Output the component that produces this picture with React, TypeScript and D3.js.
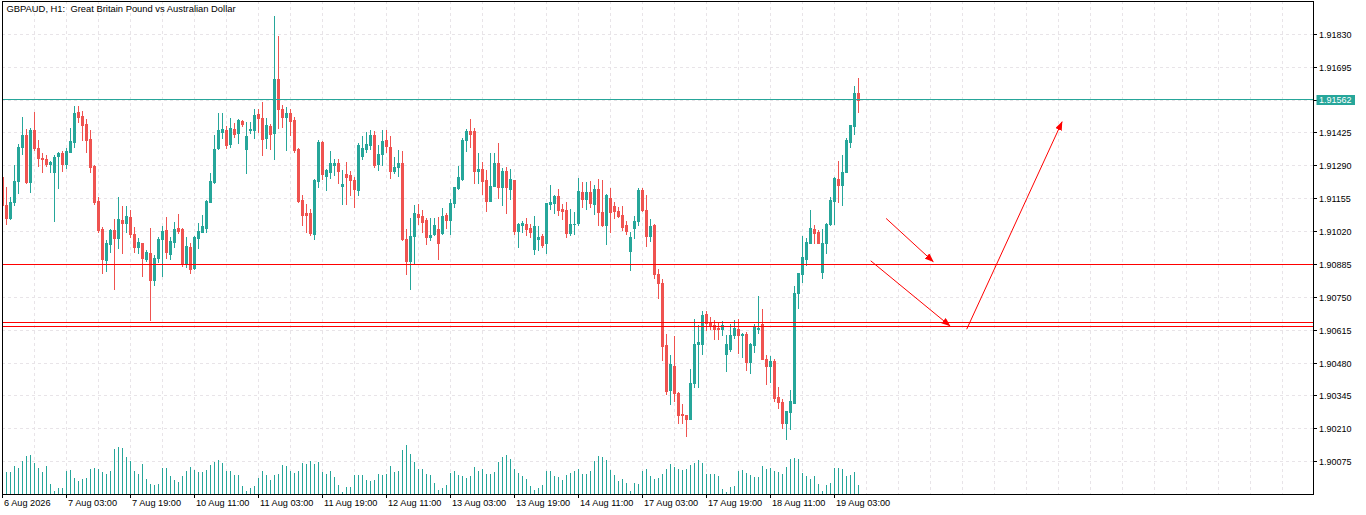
import React from 'react';
import * as d3 from 'd3';

// ---------- data ----------
const chartTitle = 'GBPAUD, H1:  Great Britain Pound vs Australian Dollar';

const opens = [
  1.91245, 1.91131, 1.91076, 1.91140, 1.91227, 1.91367, 1.91416, 1.91224, 1.91437, 1.91364, 1.91323, 1.91318, 1.91296, 1.91265, 1.91331, 1.91342,
  1.91298, 1.91348, 1.91389, 1.91511, 1.91494, 1.91461, 1.91400, 1.91290, 1.91145, 1.91030, 1.90904, 1.90967, 1.91026, 1.90994, 1.91067, 1.91056,
  1.91080, 1.91010, 1.90957, 1.90971, 1.90908, 1.90933, 1.90820, 1.90912, 1.90988, 1.91026, 1.90928, 1.90978, 1.91034, 1.91030, 1.90889, 1.90956,
  1.90872, 1.90994, 1.91019, 1.91035, 1.91142, 1.91224, 1.91364, 1.91430, 1.91437, 1.91380, 1.91441, 1.91426, 1.91474, 1.91360, 1.91438, 1.91437,
  1.91502, 1.91487, 1.91403, 1.91453, 1.91426, 1.91646, 1.91524, 1.91490, 1.91505, 1.91478, 1.91360, 1.91149, 1.91097, 1.91097, 1.91012, 1.91228,
  1.91387, 1.91249, 1.91263, 1.91293, 1.91300, 1.91208, 1.91256, 1.91252, 1.91231, 1.91190, 1.91330, 1.91360, 1.91375, 1.91415, 1.91297, 1.91338,
  1.91396, 1.91368, 1.91269, 1.91286, 1.91302, 1.90990, 1.90900, 1.91001, 1.91094, 1.91083, 1.91067, 1.90998, 1.91008, 1.91030, 1.91015, 1.91087,
  1.91067, 1.91138, 1.91200, 1.91235, 1.91398, 1.91433, 1.91433, 1.91269, 1.91276, 1.91231, 1.91146, 1.91207, 1.91302, 1.91204, 1.91268, 1.91193,
  1.91231, 1.91023, 1.91046, 1.91053, 1.91035, 1.90948, 1.90990, 1.91001, 1.90973, 1.91133, 1.91138, 1.91165, 1.91113, 1.91108, 1.91015, 1.91051,
  1.91056, 1.91182, 1.91152, 1.91182, 1.91133, 1.91194, 1.91101, 1.91046, 1.91156, 1.91124, 1.91105, 1.91090, 1.91046, 1.90941, 1.91033, 1.91063,
  1.91190, 1.91108, 1.91002, 1.91046, 1.90845, 1.90809, 1.90555, 1.90368, 1.90470, 1.90357, 1.90272, 1.90265, 1.90252, 1.90400, 1.90557, 1.90560,
  1.90680, 1.90645, 1.90635, 1.90626, 1.90618, 1.90516, 1.90537, 1.90594, 1.90619, 1.90594, 1.90598, 1.90484, 1.90553, 1.90618, 1.90642, 1.90496,
  1.90467, 1.90487, 1.90341, 1.90320, 1.90234, 1.90279, 1.90318, 1.90766, 1.90845, 1.90909, 1.90975, 1.91030, 1.91017, 1.90854, 1.90973, 1.91050,
  1.91146, 1.91235, 1.91211, 1.91265, 1.91389, 1.91453, 1.91588,
];

const highs = [
  1.91252, 1.91201, 1.91161, 1.91292, 1.91378, 1.91491, 1.91442, 1.91445, 1.91511, 1.91396, 1.91342, 1.91334, 1.91309, 1.91334, 1.91348, 1.91350,
  1.91364, 1.91444, 1.91535, 1.91535, 1.91515, 1.91483, 1.91438, 1.91293, 1.91163, 1.91039, 1.90987, 1.91029, 1.91070, 1.91160, 1.91124, 1.91124,
  1.91108, 1.91039, 1.90992, 1.90971, 1.90944, 1.91034, 1.90922, 1.90998, 1.91042, 1.91078, 1.90998, 1.91060, 1.91094, 1.91034, 1.90997, 1.90971,
  1.91001, 1.91057, 1.91090, 1.91149, 1.91259, 1.91416, 1.91505, 1.91505, 1.91453, 1.91485, 1.91464, 1.91482, 1.91478, 1.91471, 1.91468, 1.91522,
  1.91524, 1.91552, 1.91485, 1.91460, 1.91905, 1.91823, 1.91539, 1.91532, 1.91522, 1.91491, 1.91364, 1.91172, 1.91135, 1.91113, 1.91234, 1.91396,
  1.91390, 1.91276, 1.91350, 1.91319, 1.91319, 1.91272, 1.91305, 1.91268, 1.91245, 1.91383, 1.91412, 1.91430, 1.91437, 1.91433, 1.91375, 1.91437,
  1.91437, 1.91412, 1.91327, 1.91355, 1.91350, 1.91029, 1.91076, 1.91131, 1.91135, 1.91108, 1.91076, 1.91076, 1.91074, 1.91080, 1.91115, 1.91097,
  1.91153, 1.91201, 1.91289, 1.91403, 1.91441, 1.91482, 1.91444, 1.91343, 1.91304, 1.91272, 1.91343, 1.91341, 1.91385, 1.91279, 1.91286, 1.91275,
  1.91231, 1.91057, 1.91063, 1.91074, 1.91053, 1.91084, 1.91042, 1.91012, 1.91138, 1.91211, 1.91172, 1.91194, 1.91135, 1.91142, 1.91112, 1.91101,
  1.91238, 1.91224, 1.91224, 1.91227, 1.91211, 1.91234, 1.91231, 1.91174, 1.91197, 1.91142, 1.91120, 1.91124, 1.91063, 1.91019, 1.91083, 1.91198,
  1.91197, 1.91170, 1.91071, 1.91053, 1.90865, 1.90827, 1.90601, 1.90512, 1.90590, 1.90361, 1.90313, 1.90268, 1.90454, 1.90660, 1.90635, 1.90694,
  1.90694, 1.90669, 1.90656, 1.90645, 1.90653, 1.90594, 1.90642, 1.90656, 1.90659, 1.90605, 1.90608, 1.90563, 1.90642, 1.90754, 1.90704, 1.90512,
  1.90509, 1.90498, 1.90382, 1.90334, 1.90283, 1.90368, 1.90796, 1.90850, 1.91002, 1.90992, 1.91108, 1.91046, 1.91026, 1.91030, 1.91056, 1.91163,
  1.91242, 1.91310, 1.91334, 1.91403, 1.91457, 1.91618, 1.91649,
];

const lows = [
  1.91124, 1.91052, 1.91070, 1.91131, 1.91179, 1.91337, 1.91219, 1.91183, 1.91355, 1.91290, 1.91263, 1.91290, 1.91263, 1.91064, 1.91200, 1.91268,
  1.91279, 1.91345, 1.91368, 1.91471, 1.91396, 1.91348, 1.91264, 1.91133, 1.91019, 1.90850, 1.90858, 1.90937, 1.90784, 1.90953, 1.90932, 1.91019,
  1.90998, 1.90937, 1.90932, 1.90838, 1.90901, 1.90656, 1.90800, 1.90893, 1.90838, 1.90912, 1.90909, 1.90957, 1.91015, 1.90879, 1.90875, 1.90848,
  1.90868, 1.90953, 1.91019, 1.91019, 1.91142, 1.91218, 1.91361, 1.91403, 1.91364, 1.91368, 1.91408, 1.91385, 1.91453, 1.91260, 1.91423, 1.91403,
  1.91430, 1.91334, 1.91364, 1.91359, 1.91320, 1.91446, 1.91450, 1.91355, 1.91416, 1.91348, 1.91142, 1.91046, 1.91019, 1.91005, 1.90989, 1.91204,
  1.91235, 1.91190, 1.91241, 1.91252, 1.91219, 1.91135, 1.91135, 1.91172, 1.91121, 1.91170, 1.91320, 1.91348, 1.91361, 1.91286, 1.91272, 1.91293,
  1.91348, 1.91238, 1.91259, 1.91249, 1.90985, 1.90844, 1.90786, 1.90889, 1.91053, 1.91019, 1.90970, 1.90987, 1.91005, 1.90908, 1.91012, 1.91033,
  1.91012, 1.91121, 1.91194, 1.91231, 1.91352, 1.91368, 1.91220, 1.91220, 1.91176, 1.91105, 1.91146, 1.91207, 1.91158, 1.91128, 1.91097, 1.91153,
  1.91012, 1.90957, 1.91019, 1.91005, 1.90998, 1.90927, 1.90946, 1.90955, 1.90932, 1.91112, 1.91098, 1.91087, 1.91071, 1.90996, 1.91005, 1.91009,
  1.91046, 1.91121, 1.91112, 1.91121, 1.91094, 1.91046, 1.91042, 1.90968, 1.91019, 1.91075, 1.91080, 1.91026, 1.91009, 1.90864, 1.90992, 1.91046,
  1.91104, 1.90961, 1.90980, 1.90830, 1.90747, 1.90494, 1.90355, 1.90313, 1.90323, 1.90234, 1.90234, 1.90180, 1.90250, 1.90382, 1.90382, 1.90516,
  1.90615, 1.90618, 1.90578, 1.90578, 1.90594, 1.90446, 1.90528, 1.90581, 1.90523, 1.90505, 1.90450, 1.90441, 1.90526, 1.90605, 1.90496, 1.90393,
  1.90402, 1.90323, 1.90295, 1.90215, 1.90170, 1.90211, 1.90318, 1.90706, 1.90811, 1.90882, 1.90975, 1.90973, 1.90971, 1.90830, 1.90932, 1.91046,
  1.91053, 1.91142, 1.91131, 1.91265, 1.91368, 1.91420, 1.91512,
];

const closes = [
  1.91131, 1.91076, 1.91140, 1.91227, 1.91367, 1.91416, 1.91224, 1.91437, 1.91364, 1.91323, 1.91318, 1.91298, 1.91304, 1.91326, 1.91342, 1.91296,
  1.91350, 1.91392, 1.91505, 1.91491, 1.91457, 1.91396, 1.91286, 1.91142, 1.91026, 1.90908, 1.90971, 1.91026, 1.90994, 1.91070, 1.91056, 1.91083,
  1.91010, 1.90957, 1.90978, 1.90912, 1.90935, 1.90820, 1.90912, 1.90990, 1.91022, 1.90937, 1.90980, 1.91030, 1.91023, 1.90885, 1.90960, 1.90868,
  1.90997, 1.91022, 1.91042, 1.91145, 1.91227, 1.91361, 1.91437, 1.91441, 1.91375, 1.91446, 1.91420, 1.91478, 1.91461, 1.91412, 1.91441, 1.91498,
  1.91485, 1.91401, 1.91456, 1.91421, 1.91646, 1.91524, 1.91490, 1.91508, 1.91475, 1.91355, 1.91145, 1.91090, 1.91090, 1.91016, 1.91231, 1.91387,
  1.91255, 1.91271, 1.91300, 1.91300, 1.91268, 1.91215, 1.91245, 1.91231, 1.91194, 1.91376, 1.91364, 1.91378, 1.91415, 1.91293, 1.91338, 1.91392,
  1.91371, 1.91269, 1.91286, 1.91302, 1.90990, 1.90900, 1.91001, 1.91097, 1.91080, 1.91060, 1.90998, 1.91005, 1.91046, 1.90973, 1.91083, 1.91067,
  1.91138, 1.91201, 1.91244, 1.91398, 1.91433, 1.91419, 1.91269, 1.91276, 1.91228, 1.91146, 1.91207, 1.91302, 1.91204, 1.91268, 1.91204, 1.91235,
  1.91023, 1.91050, 1.91057, 1.91030, 1.91019, 1.91042, 1.90997, 1.90964, 1.91138, 1.91142, 1.91165, 1.91108, 1.91105, 1.91015, 1.91053, 1.91053,
  1.91186, 1.91152, 1.91182, 1.91138, 1.91194, 1.91101, 1.91046, 1.91170, 1.91101, 1.91105, 1.91083, 1.91039, 1.91023, 1.90997, 1.91063, 1.91190,
  1.91108, 1.91002, 1.91042, 1.90845, 1.90809, 1.90550, 1.90365, 1.90475, 1.90357, 1.90268, 1.90265, 1.90252, 1.90400, 1.90560, 1.90567, 1.90676,
  1.90645, 1.90635, 1.90618, 1.90618, 1.90635, 1.90557, 1.90594, 1.90622, 1.90594, 1.90599, 1.90484, 1.90560, 1.90628, 1.90624, 1.90496, 1.90467,
  1.90487, 1.90336, 1.90320, 1.90234, 1.90283, 1.90323, 1.90768, 1.90850, 1.90914, 1.90978, 1.91033, 1.91015, 1.90971, 1.90973, 1.91050, 1.91149,
  1.91238, 1.91211, 1.91265, 1.91396, 1.91457, 1.91590, 1.91562,
];

const volumes = [
  20, 22, 22, 28, 26, 33, 38, 39, 31, 26, 22, 28, 10, 3, 6, 6,
  23, 24, 16, 13, 15, 16, 25, 26, 25, 22, 20, 23, 45, 47, 46, 37,
  33, 23, 20, 30, 15, 10, 9, 10, 26, 26, 18, 14, 12, 18, 23, 27,
  24, 22, 22, 24, 29, 32, 34, 31, 23, 23, 19, 19, 8, 3, 6, 8,
  16, 23, 19, 14, 19, 20, 29, 28, 23, 21, 23, 31, 30, 33, 30, 32,
  22, 20, 23, 17, 9, 2, 7, 7, 19, 19, 19, 14, 13, 14, 20, 19,
  20, 28, 22, 23, 44, 49, 40, 32, 25, 25, 20, 19, 11, 4, 6, 9,
  21, 23, 19, 18, 16, 18, 27, 23, 25, 20, 20, 22, 32, 37, 39, 35,
  25, 21, 18, 15, 8, 4, 6, 9, 23, 23, 18, 17, 14, 19, 21, 23,
  25, 20, 20, 23, 33, 38, 37, 34, 24, 19, 13, 15, 11, 3, 11, 10,
  23, 25, 18, 15, 16, 20, 25, 30, 27, 25, 24, 25, 29, 31, 34, 31,
  20, 20, 20, 18, 5, 2, 7, 8, 23, 24, 21, 19, 17, 17, 28, 25,
  26, 23, 22, 20, 27, 35, 36, 35, 21, 18, 15, 18, 10, 3, 9, 11,
  26, 26, 25, 18, 19, 22, 9,
];

const timeLabels = [
  '6 Aug 2026', '7 Aug 03:00', '7 Aug 19:00', '10 Aug 11:00', '11 Aug 03:00', '11 Aug 19:00', '12 Aug 11:00',
  '13 Aug 03:00', '13 Aug 19:00', '14 Aug 11:00', '17 Aug 03:00', '17 Aug 19:00', '18 Aug 11:00', '19 Aug 03:00',
];
const timeLabelBars = [0, 16, 32, 48, 64, 80, 96, 112, 128, 144, 160, 176, 192, 208];

const priceTicks = [
  1.91830, 1.91695, 1.91560, 1.91425, 1.91290, 1.91155, 1.91020, 1.90885, 1.90750, 1.90615, 1.90480, 1.90345, 1.90210, 1.90075,
];
const hiddenTick = 1.91560;
const currentPrice = 1.91562;
const levelLines = [1.90885, 1.90646, 1.90630];

// arrows: bar index / price of start and end points
const arrowStartBars = [220.9, 217.05, 241.05];
const arrowStartPrices = [1.91074, 1.90900, 1.90619];
const arrowEndBars = [232.7, 236.9, 264.9];
const arrowEndPrices = [1.90896, 1.90632, 1.91471];

// ---------- styling ----------
const TEAL = '#26a69a';
const RED = '#ef5350';
const LINE_RED = '#ff0000';
const GRID = '#e8e4e8';
const FONT = "'Liberation Sans', Arial, sans-serif";

const W = 1366;
const H = 515;
const PLOT_L = 2;
const PLOT_R = 1313;
const PLOT_T = 1;
const PLOT_B = 494;

export default function App() {
  const n = closes.length;
  // x: bar index -> left pixel column of the wick
  const x = d3.scaleLinear().domain([0, 1]).range([2, 6]);
  const xc = (i: number) => x(i) + 0.5;
  const y = d3.scaleLinear().domain([1.90075, 1.91830]).range([461.7, 34.3]);
  const yl = (p: number) => Math.floor(y(p)) + 0.5;
  const vMax = d3.max(volumes) as number;
  const vh = d3.scaleLinear().domain([0, vMax]).range([0, vMax]);

  const vGrid: number[] = [];
  for (let b = 8; x(b) < PLOT_R; b += 8) vGrid.push(b);

  const bars = d3.range(n);

  return (
    <svg
      width={W}
      height={H}
      style={{ position: 'absolute', left: 0, top: 0, background: '#fff' }}
      fontFamily={FONT}
    >
      <defs>
        <marker id="ah" markerUnits="userSpaceOnUse" markerWidth={9} markerHeight={7} refX={8.5} refY={3.5} orient="auto">
          <path d="M0,0 L9,3.5 L0,7 z" fill={LINE_RED} />
        </marker>
        <clipPath id="plot">
          <rect x={PLOT_L} y={PLOT_T} width={PLOT_R - PLOT_L} height={PLOT_B - PLOT_T} />
        </clipPath>
      </defs>
      <rect x={0} y={0} width={W} height={H} fill="#fff" />

      {/* grid */}
      <g stroke={GRID} strokeWidth={1} strokeDasharray="3 3" shapeRendering="crispEdges">
        {vGrid.map((b) => (
          <line key={'vg' + b} x1={xc(b)} x2={xc(b)} y1={PLOT_T} y2={PLOT_B} />
        ))}
        {priceTicks.map((p) => (
          <line key={'hg' + p} x1={PLOT_L} x2={PLOT_R} y1={yl(p)} y2={yl(p)} />
        ))}
      </g>

      <g clipPath="url(#plot)">
        {/* volumes */}
        <g fill={TEAL} shapeRendering="crispEdges">
          {bars.map((i) => (
            <rect key={'v' + i} x={x(i)} width={1} y={PLOT_B - vh(volumes[i])} height={vh(volumes[i])} />
          ))}
        </g>

        {/* candles */}
        <g shapeRendering="crispEdges">
          {bars.map((i) => {
            const up = closes[i] >= opens[i];
            const col = up ? TEAL : RED;
            const yHi = Math.round(y(highs[i]));
            const yLo = Math.round(y(lows[i]));
            const yTop = Math.round(y(Math.max(opens[i], closes[i])));
            const yBot = Math.round(y(Math.min(opens[i], closes[i])));
            return (
              <g key={'c' + i} fill={col}>
                <rect x={x(i)} width={1} y={yHi} height={Math.max(1, yLo - yHi + 1)} />
                <rect x={x(i) - 1} width={3} y={yTop} height={Math.max(1, yBot - yTop + 1)} />
              </g>
            );
          })}
        </g>

        {/* current price line */}
        <line x1={PLOT_L} x2={PLOT_R} y1={yl(currentPrice)} y2={yl(currentPrice)} stroke={TEAL} strokeWidth={1} shapeRendering="crispEdges" />

        {/* horizontal levels */}
        {levelLines.map((p) => (
          <line key={'lv' + p} x1={PLOT_L} x2={PLOT_R} y1={yl(p)} y2={yl(p)} stroke={LINE_RED} strokeWidth={1} shapeRendering="crispEdges" />
        ))}

        {/* arrows */}
        {arrowStartBars.map((b, k) => (
          <line
            key={'ar' + k}
            x1={xc(b)}
            y1={y(arrowStartPrices[k])}
            x2={xc(arrowEndBars[k])}
            y2={y(arrowEndPrices[k])}
            stroke={LINE_RED}
            strokeWidth={1}
            markerEnd="url(#ah)"
          />
        ))}
      </g>

      {/* frame */}
      <rect x={PLOT_L + 0.5} y={PLOT_T + 0.5} width={PLOT_R - PLOT_L} height={PLOT_B - PLOT_T} fill="none" stroke="#000" strokeWidth={1} shapeRendering="crispEdges" />

      {/* price axis */}
      <g fontSize={9} fill="#000">
        {priceTicks.map((p) => (
          <g key={'pt' + p}>
            <line x1={PLOT_R} x2={PLOT_R + 4} y1={yl(p)} y2={yl(p)} stroke="#000" shapeRendering="crispEdges" />
            {p !== hiddenTick && (
              <text x={PLOT_R + 6} y={yl(p) + 3.3}>
                {p.toFixed(5)}
              </text>
            )}
          </g>
        ))}
      </g>

      {/* current price label */}
      <g>
        <rect x={PLOT_R + 3.5} y={yl(currentPrice) - 4.5} width={38.5} height={10} fill={TEAL} />
        <text x={PLOT_R + 6} y={yl(currentPrice) + 3.3} fontSize={9} fill="#fff">
          {currentPrice.toFixed(5)}
        </text>
      </g>

      {/* time axis */}
      <g fontSize={9.2} fill="#000">
        {timeLabels.map((t, k) => (
          <g key={'tl' + t}>
            <line x1={xc(timeLabelBars[k])} x2={xc(timeLabelBars[k])} y1={PLOT_B} y2={PLOT_B + 4} stroke="#000" shapeRendering="crispEdges" />
            <text x={xc(timeLabelBars[k]) + 1.5} y={505.5}>
              {t}
            </text>
          </g>
        ))}
      </g>

      {/* title */}
      <text x={6.5} y={12.3} fontSize={9.4} fill="#000" style={{ whiteSpace: 'pre' }} xmlSpace="preserve">
        {chartTitle}
      </text>
    </svg>
  );
}
